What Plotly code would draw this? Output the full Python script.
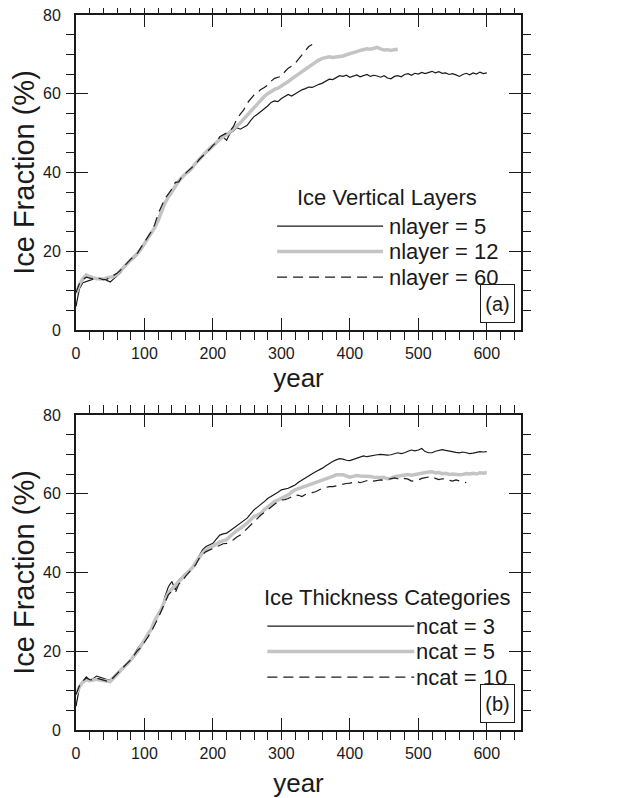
"""Ice fraction vs. year for two sets of sea-ice model runs."""

import plotly.graph_objects as go

# --- data (5-year steps starting at year 0) ---
nlayer_5 = [
    6.0, 10.5, 12.0, 12.4, 12.6, 12.9, 13.2, 12.8, 13.0, 12.6,
    12.2, 13.0, 13.7, 14.6, 15.8, 16.8, 17.6, 18.3, 19.2, 20.4,
    21.8, 22.9, 24.5, 26.2, 28.5, 30.8, 32.6, 34.0, 35.6, 36.8,
    38.0, 38.6, 39.5, 40.1, 41.0, 42.3, 43.2, 44.0, 44.9, 45.6,
    46.6, 47.4, 48.7, 49.0, 48.2, 50.0, 50.6, 51.4, 51.0, 51.5,
    52.0, 53.2, 54.2, 54.8, 55.6, 56.2, 56.9, 57.8, 58.2, 58.0,
    58.8, 59.3, 59.8, 59.4, 59.9, 60.6, 61.0, 61.3, 61.7, 61.6,
    62.1, 62.4, 62.7, 63.3, 63.7, 63.6, 64.1, 64.6, 64.4, 64.7,
    64.2, 64.5, 64.8, 64.3, 64.6, 64.9, 64.4, 64.7, 64.5, 64.2,
    64.6, 64.0, 63.8, 64.4, 64.6, 64.3, 64.9, 65.1, 64.7, 65.2,
    65.0, 65.4, 65.1, 65.5, 65.7, 65.3, 65.6, 65.2, 65.3, 64.9,
    65.1, 64.8, 64.4, 64.9, 65.2, 64.8, 65.3, 65.0, 65.5, 65.1,
    65.3,
]
nlayer_12 = [
    9.3, 11.5, 13.0, 14.0, 13.6, 13.2, 13.0, 13.1, 12.9, 13.2,
    13.3, 13.6, 14.2, 15.0, 16.0, 17.0, 17.8, 18.6, 19.5, 20.6,
    22.0, 23.2, 24.4, 26.0, 27.8, 30.0, 32.3, 33.8, 35.2, 36.5,
    37.8, 38.8, 39.6, 40.4, 41.3, 42.4, 43.4, 44.3, 45.2, 46.0,
    46.8, 47.8, 48.6, 49.2, 49.6, 50.3, 51.0, 51.8, 52.6, 53.6,
    54.6, 55.6, 56.6, 57.6, 58.5, 59.3, 60.0, 60.6, 61.1, 61.4,
    61.9, 62.6, 63.1, 63.8, 64.4, 65.0, 65.6, 66.3, 66.9, 67.6,
    68.2, 68.6, 69.0, 69.3, 69.4, 69.2, 69.3, 69.5, 69.6, 69.9,
    70.1, 70.4, 70.7, 71.0, 71.3, 71.4, 71.3, 71.6, 71.8, 71.4,
    71.1, 71.2, 71.0, 71.2, 71.3,
]
nlayer_60 = [
    9.5, 11.8, 12.8, 13.4, 13.2, 13.0, 13.3, 13.0, 12.8, 12.9,
    13.4, 13.8, 14.4, 15.2, 16.2, 17.2, 18.0, 18.8, 19.6, 21.0,
    22.3, 23.5, 25.0, 26.8, 29.5, 31.5, 33.4, 34.6, 35.8, 37.5,
    37.6, 39.0, 39.8, 40.6, 41.4, 42.2, 43.3, 44.1, 45.0, 45.9,
    46.9, 47.6, 49.1, 49.6, 50.0, 50.5, 51.7, 53.6, 54.8, 55.9,
    57.6, 58.8, 59.7, 60.3, 61.1, 61.6, 62.2, 63.2, 63.9, 64.2,
    64.4, 65.6, 66.5, 67.0, 67.7, 68.8, 69.9, 71.0, 72.0, 72.5,
]
ncat_3 = [
    6.0, 10.8, 12.3, 13.5, 12.7, 13.0, 13.7, 13.3, 13.1, 12.8,
    12.7, 13.6, 14.6, 15.4, 16.1, 16.9, 17.8, 19.2, 20.7, 21.8,
    23.0, 24.2, 25.4, 27.3, 29.6, 30.5, 33.9, 36.4, 37.7, 35.6,
    38.1, 38.9, 39.8, 40.4, 41.1, 42.8, 44.5, 45.8, 46.6, 47.0,
    47.4, 48.5, 49.5, 49.8, 50.0, 50.6, 51.2, 51.9, 52.5, 53.1,
    53.8, 54.9, 55.9, 56.6, 57.2, 58.0, 58.8, 59.3, 59.7, 60.4,
    61.0, 61.2, 61.4, 61.8, 62.2, 62.9, 63.5, 64.0, 64.5, 65.1,
    65.6, 66.0, 66.5, 67.1, 67.7, 68.2, 68.6, 68.9, 68.8, 68.5,
    68.4, 68.7, 69.0, 69.4, 69.6, 69.4, 69.6, 69.8, 69.9, 70.0,
    69.9, 69.8, 69.9, 70.2, 70.4, 70.2, 70.4, 70.8, 71.1, 70.9,
    71.1, 71.5, 70.7, 70.4, 70.4, 70.8, 71.1, 71.2, 71.0, 70.8,
    70.7, 70.5, 70.4, 70.6, 70.4, 70.2, 70.3, 70.5, 70.7, 70.6,
    70.7,
]
ncat_5 = [
    9.0, 11.0, 12.2, 12.8, 12.5, 12.6, 12.9, 12.7, 12.6, 12.4,
    12.3, 13.2, 14.2, 15.2, 16.0, 16.8, 17.7, 18.8, 20.0, 21.3,
    22.8, 24.4, 25.6, 27.8, 29.2, 30.8, 33.0, 34.8, 35.8, 36.8,
    37.8, 38.6, 39.5, 40.4, 41.2, 42.6, 44.0, 45.0, 45.8, 46.2,
    46.6, 47.2, 47.8, 48.1, 48.3, 49.2, 50.0, 50.6, 51.2, 51.8,
    52.5, 53.4, 54.2, 54.6, 55.0, 55.9, 56.7, 57.4, 58.0, 58.4,
    58.8, 59.3, 59.7, 60.4, 61.0, 61.3, 61.6, 61.9, 62.2, 62.5,
    62.7, 63.1, 63.5, 63.7, 63.9, 64.4, 64.8, 64.9, 64.8, 64.5,
    64.2, 64.4, 64.6, 64.5, 64.5, 64.3, 64.4, 64.2, 64.2, 64.0,
    64.1, 63.8, 63.9, 64.3, 64.5, 64.6, 64.8, 64.9, 64.7, 64.9,
    65.0, 65.2, 65.3, 65.5, 65.6, 65.3, 65.4, 65.1, 65.2, 64.9,
    65.0, 64.8, 64.8, 64.9, 65.1, 65.0, 65.2, 65.0, 65.3, 65.2,
    65.4,
]
ncat_10 = [
    9.0, 11.2, 12.5, 13.2, 12.8, 12.7, 13.2, 12.9, 12.6, 12.4,
    12.5, 13.4, 14.4, 15.4, 16.2, 17.0, 17.8, 19.0, 20.2, 21.0,
    22.2, 23.6, 25.0, 26.6, 28.4, 30.4, 32.6, 34.4, 35.2, 34.8,
    37.0, 37.8, 39.0, 40.0, 40.8, 42.0, 43.6, 44.6, 45.3, 45.7,
    46.1, 46.6, 47.0, 47.3, 47.4, 47.8, 48.3, 49.0, 49.5, 50.3,
    51.2, 52.0, 52.9, 53.8, 54.6, 55.2, 55.9, 56.6, 57.4, 58.0,
    58.4, 58.5, 58.8, 59.3, 59.7, 59.6, 59.3, 59.8, 60.1, 60.3,
    60.5, 61.0, 61.4, 61.6, 61.8, 61.8, 62.0, 62.3, 62.5, 62.6,
    62.7, 62.9, 63.1, 62.8, 63.1, 63.4, 63.6, 63.2, 63.3, 63.5,
    63.4, 63.6, 63.7, 64.0, 63.8, 63.5, 63.9, 63.7, 63.2, 63.4,
    63.5, 63.9, 64.1, 64.3, 64.4, 63.9, 63.6, 63.8, 63.7, 63.4,
    63.2, 63.5, 63.3, 63.0, 62.8,
]

STEP = 5
panels = [
    ("Ice Vertical Layers", "(a)",
     [("nlayer = 5", nlayer_5), ("nlayer = 12", nlayer_12), ("nlayer = 60", nlayer_60)]),
    ("Ice Thickness Categories", "(b)",
     [("ncat = 3", ncat_3), ("ncat = 5", ncat_5), ("ncat = 10", ncat_10)]),
]

styles = [
    dict(color="#1a1a1a", width=1.2),
    dict(color="#c4c4c4", width=3.5),
    dict(color="#1a1a1a", width=1.2, dash="10px,6px"),
]

FONT = "Liberation Sans, Arial, Helvetica, sans-serif"
domains = [(0.5594, 1.0), (0.0, 0.4406)]

# legend placement inside each panel (axis-domain fractions)
legend_cfg = [
    dict(line_x=(0.452, 0.690), text_x=0.699),
    dict(line_x=(0.430, 0.760), text_x=0.759),
]
row_y = [0.330, 0.249, 0.168]

fig = go.Figure()
annotations = []
shapes = []

for p, (leg_title, tag, series) in enumerate(panels):
    xa = "x" if p == 0 else "x2"
    ya = "y" if p == 0 else "y2"
    for (name, vals), st in zip(series, styles):
        years = list(range(0, STEP * len(vals), STEP))
        fig.add_trace(go.Scatter(x=years, y=vals, mode="lines", name=name,
                                 line=st, xaxis=xa, yaxis=ya, showlegend=False))

    cfg = legend_cfg[p]
    annotations.append(dict(text=leg_title, xref=f"{xa} domain", yref=f"{ya} domain",
                            x=0.699, y=0.422, xanchor="center", yanchor="middle",
                            showarrow=False,
                            font=dict(size=22, color="#1a1a1a", family=FONT)))
    for (name, _), st, yy in zip(series, styles, row_y):
        shapes.append(dict(type="line", xref=f"{xa} domain", yref=f"{ya} domain",
                           x0=cfg["line_x"][0], x1=cfg["line_x"][1], y0=yy, y1=yy,
                           line=st))
        annotations.append(dict(text=name, xref=f"{xa} domain", yref=f"{ya} domain",
                                x=cfg["text_x"], y=yy, xanchor="left", yanchor="middle",
                                showarrow=False,
                                font=dict(size=22, color="#1a1a1a", family=FONT)))
    annotations.append(dict(text=tag, xref=f"{xa} domain", yref=f"{ya} domain",
                            x=0.947, y=0.084, xanchor="center", yanchor="middle",
                            showarrow=False, width=31, height=35,
                            bgcolor="white", bordercolor="#1a1a1a", borderwidth=1,
                            font=dict(size=20, color="#1a1a1a", family=FONT)))

axis_common = dict(showline=True, linecolor="#1a1a1a", linewidth=1.8, mirror="allticks",
                   ticks="inside", tickcolor="#1a1a1a", tickwidth=1.2, ticklen=12,
                   showgrid=False, zeroline=False, automargin=False,
                   ticklabeloverflow="allow",
                   tickfont=dict(size=16, color="#1a1a1a", family=FONT))

for p in range(2):
    sfx = "" if p == 0 else "2"
    fig.update_layout(**{
        f"xaxis{sfx}": dict(axis_common, range=[0, 650], tick0=0, dtick=100,
                            minor=dict(dtick=20, ticklen=8, tickcolor="#1a1a1a", tickwidth=1.2),
                            anchor=f"y{sfx}", ticklabelstandoff=8,
                            title=dict(text="year", standoff=8 if p == 0 else 14,
                                       font=dict(size=26, color="#1a1a1a", family=FONT))),
        f"yaxis{sfx}": dict(axis_common, range=[0, 80], tick0=0, dtick=20,
                            minor=dict(dtick=5, ticklen=8, tickcolor="#1a1a1a", tickwidth=1.2),
                            anchor=f"x{sfx}", domain=list(domains[p]), ticklabelstandoff=10,
                            title=dict(text="Ice Fraction (%)", standoff=2,
                                       font=dict(size=29, color="#1a1a1a", family=FONT))),
    })

# the page adds an 8px body margin, so the figure is 8px smaller than the window
fig.update_layout(
    width=610, height=790,
    margin=dict(l=68, r=97, t=7, b=68),
    paper_bgcolor="white", plot_bgcolor="white",
    annotations=annotations, shapes=shapes,
    showlegend=False,
)

fig.write_html("out.html")
